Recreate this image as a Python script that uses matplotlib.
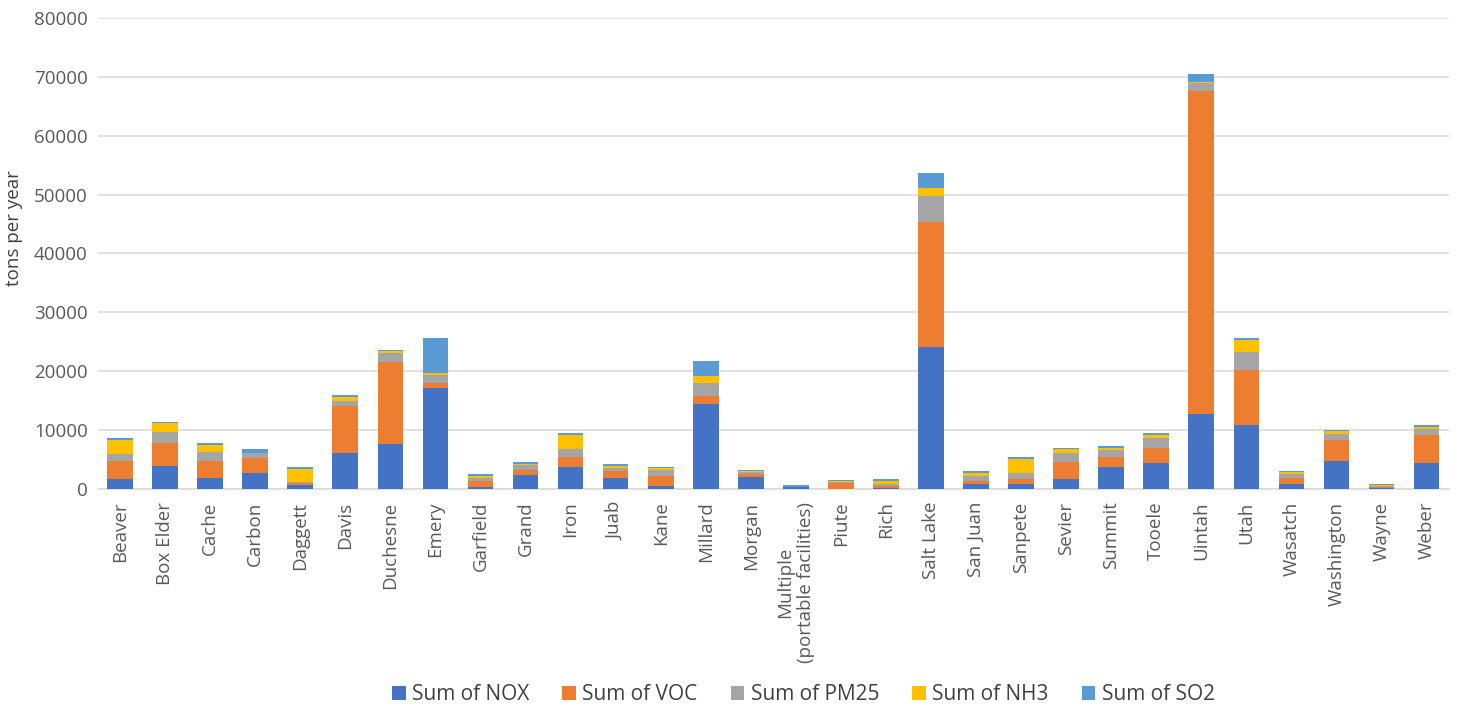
import matplotlib.pyplot as plt
import numpy as np

plt.rcParams['font.family'] = ['Open Sans', 'DejaVu Sans']

counties = ["Beaver", "Box Elder", "Cache", "Carbon", "Daggett", "Davis",
            "Duchesne", "Emery", "Garfield", "Grand", "Iron", "Juab", "Kane",
            "Millard", "Morgan", "Multiple\n(portable facilities)", "Piute",
            "Rich", "Salt Lake", "San Juan", "Sanpete", "Sevier", "Summit",
            "Tooele", "Uintah", "Utah", "Wasatch", "Washington", "Wayne",
            "Weber"]

# emissions, tons per year
nox = [1700, 3960, 1920, 2720, 630, 6170, 7600, 17220, 290, 2330, 3690, 1920,
       560, 14500, 1990, 290, 60, 220, 24190, 900, 900, 1700, 3690, 4470,
       12800, 10830, 900, 4760, 110, 4470]
voc = [3060, 3810, 2840, 2600, 390, 7990, 14040, 850, 1120, 950, 1800, 1190,
       1700, 1360, 560, 20, 880, 290, 21080, 510, 800, 2840, 1800, 2550,
       54740, 9450, 1020, 3570, 280, 4710]
pm25 = [1140, 1970, 1580, 800, 170, 850, 1430, 1310, 510, 750, 1260, 510,
        1020, 2210, 290, 20, 260, 340, 4420, 850, 1070, 1580, 1190, 1600,
        1360, 3060, 680, 1070, 110, 1020]
nh3 = [2430, 1430, 1140, 50, 2260, 680, 340, 390, 340, 200, 2430, 340, 230,
       1140, 170, 10, 160, 560, 1430, 510, 2330, 630, 340, 560, 290, 1990,
       240, 410, 230, 390]
so2 = [290, 270, 340, 630, 290, 240, 220, 5850, 290, 310, 290, 290, 230,
       2500, 170, 390, 170, 290, 2550, 290, 290, 220, 290, 290, 1360, 290,
       220, 270, 170, 290]

series = [("Sum of NOX", nox, "#4472C4"),
          ("Sum of VOC", voc, "#ED7D31"),
          ("Sum of PM25", pm25, "#A5A5A5"),
          ("Sum of NH3", nh3, "#FFC000"),
          ("Sum of SO2", so2, "#5B9BD5")]

fig = plt.figure(figsize=(14.58, 7.08), dpi=100)
ax = fig.add_axes([0.0669, 0.3093, 0.927, 0.6653])

x = np.arange(len(counties))
bottom = np.zeros(len(counties))
for name, vals, color in series:
    vals = np.array(vals, dtype=float)
    ax.bar(x, vals, 0.57, bottom=bottom, color=color, label=name,
           edgecolor="none", zorder=3)
    bottom += vals

ax.set_xlim(-0.5, len(counties) - 0.5)
ax.set_ylim(0, 80000)
ax.set_yticks(np.arange(0, 80001, 10000))
ax.yaxis.grid(True, color="#d9d9d9", linewidth=1.1, zorder=0)
ax.set_axisbelow(True)

for side in ["top", "right", "left"]:
    ax.spines[side].set_visible(False)
ax.spines["bottom"].set_color("#d9d9d9")
ax.spines["bottom"].set_linewidth(1.1)

ax.set_xticks(x)
ax.set_xticklabels(counties, rotation=90, ha="center", va="top",
                   multialignment="center")
ax.tick_params(axis="x", length=0, pad=9, labelsize=13.5, labelcolor="#595959")
ax.tick_params(axis="y", length=0, pad=7, labelsize=13.5, labelcolor="#595959")

ax.set_ylabel("tons per year", fontsize=13.5, color="#404040", va="center")
ax.yaxis.set_label_coords(-0.0618, 0.553)

fig.legend(loc="center", bbox_to_anchor=(0.551, 0.0184), ncol=5,
           frameon=False, fontsize=15, handlelength=0.65, handleheight=0.65,
           handletextpad=0.3, columnspacing=1.6, labelcolor="#404040")

fig.savefig("out.png", dpi=100)
